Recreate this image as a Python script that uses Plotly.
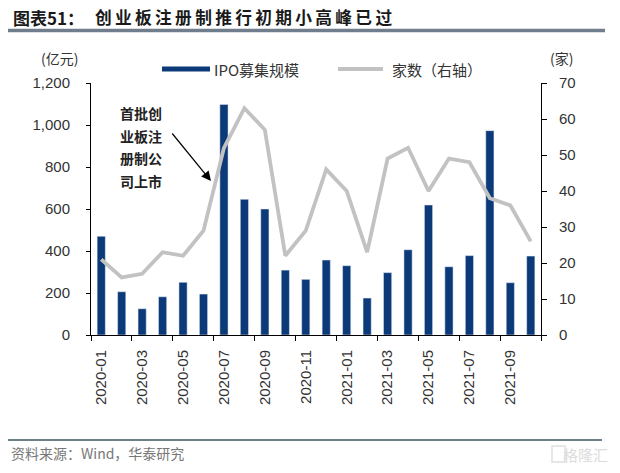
import plotly.graph_objects as go

months = ["2020-01", "2020-02", "2020-03", "2020-04", "2020-05", "2020-06",
          "2020-07", "2020-08", "2020-09", "2020-10", "2020-11", "2020-12",
          "2021-01", "2021-02", "2021-03", "2021-04", "2021-05", "2021-06",
          "2021-07", "2021-08", "2021-09", "2021-10"]
ipo_amount = [470, 206, 125, 182, 251, 195, 1098, 646, 600, 309, 265, 357,
              330, 176, 297, 406, 619, 325, 378, 973, 249, 376]
ipo_count = [21, 16, 17, 23, 22, 29, 52, 63, 57, 22, 29, 46,
             40, 23, 49, 52, 40, 49, 48, 38, 36, 26]

x_idx = list(range(len(months)))
label_idx = x_idx[::2]
label_text = months[::2]
boundaries = [i - 0.5 for i in range(0, len(months) + 1, 2)]

W, H = 620, 473
L, R, T, B = 91, 541, 83, 335  # plot area in pixels


def xp(px):
    return (px - L) / (R - L)


def yp(py):
    return (B - py) / (B - T)


NUM_FONT = "Liberation Sans, Arial, sans-serif"
CJK_FONT = "Noto Sans CJK SC, sans-serif"
BAR_COLOR = "#0c3a79"
LINE_COLOR = "#c2c2c2"

fig = go.Figure()
fig.add_trace(go.Bar(x=x_idx, y=ipo_amount, width=0.4, marker_color=BAR_COLOR,
                     name="IPO募集规模", showlegend=False))
fig.add_trace(go.Scatter(x=x_idx, y=ipo_count, mode="lines", yaxis="y2",
                         line=dict(color=LINE_COLOR, width=3.8),
                         name="家数（右轴）", showlegend=False))

fig.update_layout(
    width=W, height=H,
    margin=dict(l=L, r=W - R, t=T, b=H - B, pad=0),
    paper_bgcolor="white", plot_bgcolor="white",
    font=dict(family=NUM_FONT, size=15, color="#333"),
    xaxis=dict(range=[-0.5, len(months) - 0.5], tickmode="array",
               tickvals=label_idx, ticktext=label_text, tickangle=-90,
               ticks="", showline=True, linecolor="black", linewidth=1,
               showgrid=False, zeroline=False, ticklabelstandoff=8,
               tickfont=dict(size=15, color="#333"),
               minor=dict(tickmode="array", tickvals=boundaries, ticks="outside",
                          ticklen=5, tickcolor="black", tickwidth=1, showgrid=False)),
    yaxis=dict(range=[0, 1200], dtick=200, tickformat=",", showline=True,
               linecolor="black", linewidth=1, ticks="outside", ticklen=4,
               tickcolor="black", showgrid=False, zeroline=False,
               ticklabelstandoff=13, tickfont=dict(size=15, color="#333")),
    yaxis2=dict(range=[0, 70], dtick=10, overlaying="y", side="right",
                showline=True, linecolor="black", linewidth=1, ticks="outside",
                ticklen=5, tickcolor="black", showgrid=False, zeroline=False,
                ticklabelstandoff=9, tickfont=dict(size=15, color="#333")),
    bargap=0.6,
)

ann = []
# Title
ann.append(dict(text="<b>图表51：</b>", x=xp(11), y=yp(17), xref="paper", yref="paper",
                xanchor="left", yanchor="middle", showarrow=False,
                font=dict(family=CJK_FONT, size=17, color="#1a1a1a")))
title_rest = "\u2009".join("创业板注册制推行初期小高峰已过")
ann.append(dict(text="<b>" + title_rest + "</b>", x=xp(93), y=yp(17), xref="paper",
                yref="paper", xanchor="left", yanchor="middle", showarrow=False,
                font=dict(family=CJK_FONT, size=16.7, color="#1a1a1a")))
# Units
ann.append(dict(text="(亿元)", x=xp(59), y=yp(58), xref="paper", yref="paper",
                xanchor="center", yanchor="middle", showarrow=False,
                font=dict(family=CJK_FONT, size=14, color="#333")))
ann.append(dict(text="(家)", x=xp(561), y=yp(58), xref="paper", yref="paper",
                xanchor="center", yanchor="middle", showarrow=False,
                font=dict(family=CJK_FONT, size=14, color="#333")))
# Legend text
ann.append(dict(text="IPO募集规模", x=xp(212), y=yp(69), xref="paper", yref="paper",
                xanchor="left", yanchor="middle", showarrow=False,
                font=dict(family=CJK_FONT, size=15, color="#333")))
ann.append(dict(text="家数（右轴）", x=xp(390), y=yp(69), xref="paper", yref="paper",
                xanchor="left", yanchor="middle", showarrow=False,
                font=dict(family=CJK_FONT, size=15, color="#333")))
# Callout text
for i, line in enumerate(["首批创", "业板注", "册制公", "司上市"]):
    ann.append(dict(text="<b>" + line + "</b>", x=xp(141), y=yp(113 + 22.5 * i),
                    xref="paper", yref="paper", xanchor="center", yanchor="middle",
                    showarrow=False,
                    font=dict(family=CJK_FONT, size=14, color="#222")))
# Arrow
ann.append(dict(text="", x=xp(211), y=yp(181), xref="paper", yref="paper",
                ax=-40, ay=-49, axref="pixel", ayref="pixel", showarrow=True,
                arrowhead=2, arrowsize=1.6, arrowwidth=1.2, arrowcolor="black"))
# Source
ann.append(dict(text="资料来源：Wind，华泰研究", x=xp(9), y=yp(453), xref="paper",
                yref="paper", xanchor="left", yanchor="middle", showarrow=False,
                font=dict(family=CJK_FONT, size=14, color="#777")))
ann.append(dict(text="格隆汇", x=xp(610), y=yp(454), xref="paper", yref="paper",
                xanchor="right", yanchor="middle", showarrow=False,
                font=dict(family=CJK_FONT, size=15, color="#dcdcdc")))
fig.update_layout(annotations=ann)

shapes = [
    dict(type="line", xref="paper", yref="paper", x0=xp(8), x1=xp(605),
         y0=yp(30.5), y1=yp(30.5), line=dict(color="#6f7d8c", width=3.5)),
    dict(type="line", xref="paper", yref="paper", x0=xp(8), x1=xp(602),
         y0=yp(440), y1=yp(440), line=dict(color="#6f7f88", width=2.2)),
    dict(type="rect", xref="paper", yref="paper", x0=xp(162), x1=xp(210),
         y0=yp(66.5), y1=yp(71.5), fillcolor=BAR_COLOR, line=dict(width=0)),
    dict(type="line", xref="paper", yref="paper", x0=xp(338), x1=xp(383),
         y0=yp(69), y1=yp(69), line=dict(color=LINE_COLOR, width=3.8)),
    dict(type="rect", xref="paper", yref="paper", x0=xp(552), x1=xp(565),
         y0=yp(446), y1=yp(462), fillcolor="rgba(0,0,0,0)",
         line=dict(color="#e0e0e0", width=1.5)),
]
fig.update_layout(shapes=shapes)

fig.write_html("out.html", config={"displayModeBar": False},
               post_script="document.body.style.margin='0';document.body.style.padding='0';")
